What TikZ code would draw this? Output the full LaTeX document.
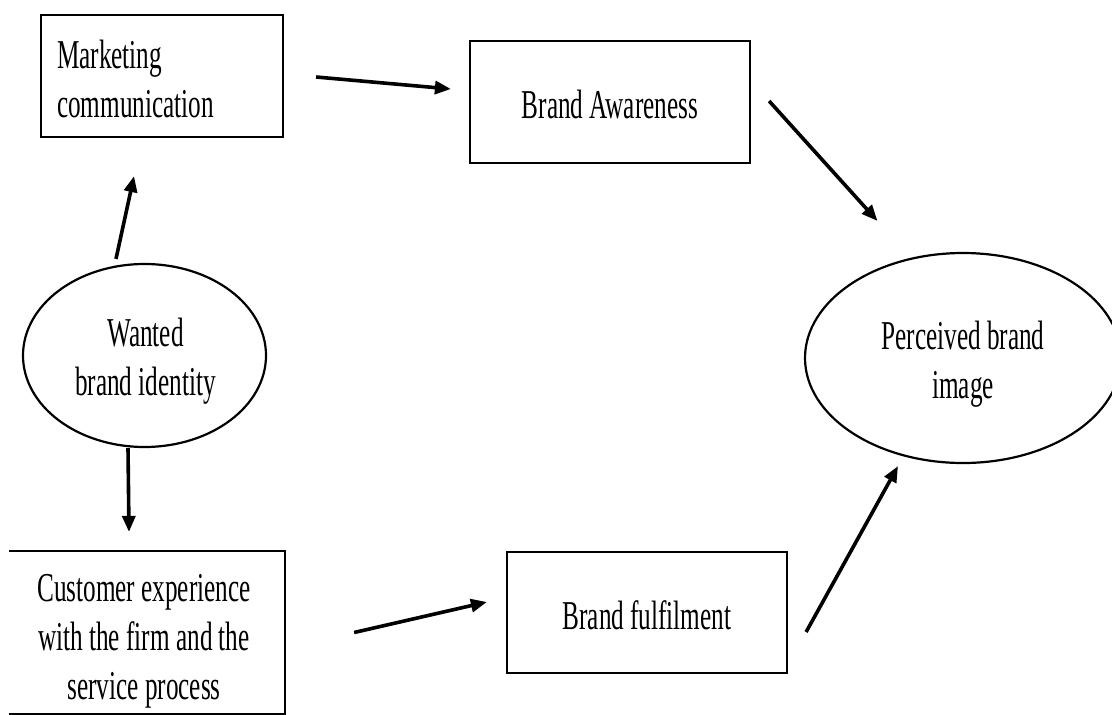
\documentclass[tikz,border=0pt]{standalone}
\usepackage{fontspec}
\setmainfont{Liberation Serif}[FakeStretch=0.615]
\usetikzlibrary{arrows.meta,shapes.geometric,calc}

\tikzset{
  txt/.style={font=\fontsize{41}{49}\selectfont, text=black, inner sep=0pt},
  box/.style={draw=black, line width=2.2pt, rectangle, inner sep=0pt},
  oval/.style={draw=black, line width=2.2pt, ellipse, inner sep=0pt},
  link/.style={line width=3.6pt, draw=black, -{Triangle[length=16pt,width=13pt]}}
}

\begin{document}
\begin{tikzpicture}[x=1pt,y=-1pt]
  \useasboundingbox (0,0) rectangle (1112,715);

  % boxes
  \node[box, minimum width=242pt, minimum height=122pt] (mc) at (162,76) {};
  \node[txt, align=left, anchor=west] (mcText) at ($(mc.west)+(17,3)$) {Marketing\\communication};

  \node[box, minimum width=280pt, minimum height=122pt] (ba) at (610,102) {};
  \node[txt] (baText) at ($(ba)+(0,2)$) {Brand Awareness};

  \node[box, minimum width=280pt, minimum height=121pt] (bf) at (647,612.5) {};
  \node[txt] (bfText) at ($(bf)+(0,3)$) {Brand fulfilment};

  \node[box, draw=none, minimum width=274pt, minimum height=161pt] (ce) at (147,632.5) {};
  \draw[line width=2.2pt] (ce.south west) -- (ce.south east) -- (ce.north east) -- (ce.north west);
  \node[txt, align=center] (ceText) at ($(ce)+(-3,9)$) {Customer experience\\with the firm and the\\service process};

  % ellipses
  \node[oval, minimum width=243pt, minimum height=183pt] (wbi) at (144.5,355.5) {};
  \node[txt, align=center] (wbiText) at ($(wbi)+(1,6)$) {Wanted\\brand identity};

  \node[oval, minimum width=316pt, minimum height=210pt] (pbi) at (963,358) {};
  \node[txt, align=center] (pbiText) at ($(pbi)+(0,6)$) {Perceived brand\\image};

  % connector end points
  \coordinate (mcOut) at ($(mc.east)+(32,1)$);
  \coordinate (baIn)  at ($(ba.west)+(-18,-13)$);
  \coordinate (baOut) at ($(ba.east)+(18,-1)$);
  \coordinate (pbiInA) at ($(pbi.north west)+(27,-62)$);
  \coordinate (wbiUp) at ($(wbi.north)+(-28.5,-4)$);
  \coordinate (mcIn)  at ($(mc.south)+(-28,38)$);
  \coordinate (wbiDn) at ($(wbi.south)+(-16.5,0)$);
  \coordinate (ceIn)  at ($(ce.north)+(-18,-19)$);
  \coordinate (ceOut) at ($(ce.east)+(69,0)$);
  \coordinate (bfIn)  at ($(bf.west)+(-19,-10.5)$);
  \coordinate (bfOut) at ($(bf.east)+(18,19.5)$);
  \coordinate (pbiInB) at ($(pbi.south)+(-65,2)$);

  % connectors
  \draw[link] (mcOut) -- (baIn);
  \draw[link] (baOut) -- (pbiInA);
  \draw[link] (wbiUp) -- (mcIn);
  \draw[link] (wbiDn) -- (ceIn);
  \draw[link] (ceOut) -- (bfIn);
  \draw[link] (bfOut) -- (pbiInB);
\end{tikzpicture}
\end{document}
